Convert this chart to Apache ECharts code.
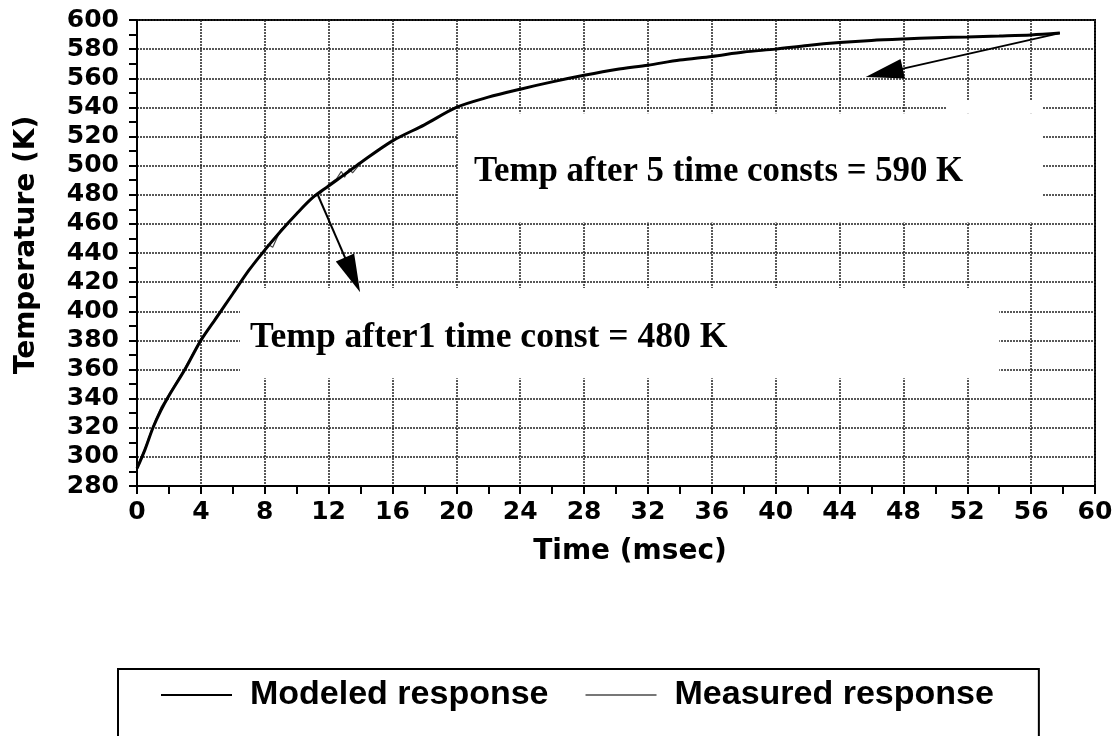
<!DOCTYPE html>
<html>
<head>
<meta charset="utf-8">
<script src="https://cdn.jsdelivr.net/npm/echarts@6/dist/echarts.min.js"></script>
<style>
html,body{margin:0;padding:0;background:#fff;}
#chart{width:1120px;height:736px;}
</style>
</head>
<body>
<div id="chart"></div>
<script>
// ---- data ----
const modeledTime = [0,0.5,1,1.5,2,3,4,5,6,7,8,9,10,11,12,13,14,16,18,20,22,24,26,28,30,32,34,36,38,40,42,44,46,48,50,52,54,56,57.8];
const modeledTemp = [292,305,320,332,342,360,380,396,412,428,442,455,467,478,486,494,502,517,528,540,547,552.5,557.5,562,566,569,572.5,575,578,580,582.5,584.5,586,587,587.8,588.4,589,589.7,591];
const measuredTime = [0,0.5,1,1.5,2,2.5,3,3.5,4,4.5,5,5.5,6,6.5,7,7.5,8,8.2,8.5,9,9.5,10,10.5,11,11.5,12,12.5,12.8,13,13.3,13.5,13.8,14];
const measuredTemp = [293,306,321,334,343,352,361,371,381,388,397,404,412,420,428,435,441,446,444,456,461,467,473,478,481,487,491,496,492,498,495,499,501];
const seriesNames = ['Modeled response','Measured response'];
const annotation1 = 'Temp after 5 time consts = 590 K';
const annotation2 = 'Temp after1 time const = 480 K';
// arrow endpoints [time, temp] (end = centre of arrow head)
const arrow1 = [[11.3,480.5],[13.5,425]];
const arrow2 = [[57.8,591],[46.8,563.7]];
// white annotation boxes [[t0,T0],[t1,T1]]
const box1 = [[20.1,461],[56.7,536]];
const box1b = [[50.7,536],[56.7,545]];
const box2 = [[6.45,354],[54.0,416]];

const chart = echarts.init(document.getElementById('chart'));
const zip = (a,b)=>a.map((v,i)=>[v,b[i]]);
const tickFont = {fontFamily:'DejaVu Sans',fontWeight:'bold',fontSize:25,color:'#000'};
const nameFont = {fontFamily:'DejaVu Sans',fontWeight:'bold',fontSize:28,color:'#000'};
const gridLine = {show:true,lineStyle:{color:'#222',width:1.5,type:[2,1]}};

chart.setOption({
  animation:false,
  backgroundColor:'#fff',
  color:['#000','#444'],
  grid:{left:137,right:25,top:20,bottom:250,show:true,borderColor:'#000',borderWidth:2,backgroundColor:'transparent'},
  xAxis:{
    type:'value',min:0,max:60,interval:4,
    name:'Time (msec)',nameLocation:'middle',nameGap:52,
    nameTextStyle:Object.assign({padding:[0,0,0,28]},nameFont),
    axisLine:{show:true,lineStyle:{color:'#000',width:2}},
    axisTick:{show:true,length:8,lineStyle:{color:'#000',width:2}},
    minorTick:{show:true,splitNumber:2,length:8,lineStyle:{color:'#000',width:2}},
    axisLabel:Object.assign({margin:14},tickFont),
    splitLine:gridLine
  },
  yAxis:{
    type:'value',min:280,max:600,interval:20,
    name:'Temperature (K)',nameLocation:'middle',nameGap:96,
    nameTextStyle:Object.assign({padding:[0,0,0,16]},nameFont),
    axisLine:{show:true,lineStyle:{color:'#000',width:2}},
    axisTick:{show:true,length:8,lineStyle:{color:'#000',width:2}},
    minorTick:{show:true,splitNumber:2,length:8,lineStyle:{color:'#000',width:2}},
    axisLabel:Object.assign({margin:18},tickFont),
    splitLine:gridLine
  },
  legend:{
    left:118,top:669,
    data:[
      {name:seriesNames[0],icon:'rect',itemStyle:{color:'#000'}},
      {name:seriesNames[1],icon:'rect',itemStyle:{color:'#777'}}
    ],
    orient:'horizontal',
    borderColor:'#000',borderWidth:2,
    padding:[9,45,60,43],
    itemWidth:71,itemHeight:2,itemGap:37,
    textStyle:{fontFamily:'Liberation Sans',fontWeight:'bold',fontSize:34,color:'#000',padding:[0,0,0,13]}
  },
  series:[
    {
      name:seriesNames[1],type:'line',data:zip(measuredTime,measuredTemp),
      symbol:'none',z:3,
      lineStyle:{color:'#444',width:1.2},
      markArea:{
        silent:true,
        itemStyle:{color:'#fff',opacity:1},
        label:{show:true,position:'insideLeft',distance:16,fontFamily:'Liberation Serif',fontWeight:'bold',fontSize:34.8,color:'#000',offset:[0,4]},
        data:[
          [{coord:box1[0],name:annotation1},{coord:box1[1]}],
          [{coord:box1b[0],label:{show:false}},{coord:box1b[1]}],
          [{coord:box2[0],name:annotation2,label:{distance:10,fontSize:35.6,offset:[0,5]}},{coord:box2[1]}]
        ]
      }
    },
    {
      name:seriesNames[0],type:'line',data:zip(modeledTime,modeledTemp),
      symbol:'none',smooth:0.3,z:4,
      lineStyle:{color:'#000',width:3},
      markLine:{
        silent:true,
        symbol:['none','triangle'],
        symbolSize:[20,38],
        lineStyle:{color:'#000',width:2,type:'solid'},
        label:{show:false},
        data:[
          [{coord:arrow1[0]},{coord:arrow1[1]}],
          [{coord:arrow2[0]},{coord:arrow2[1]}]
        ]
      }
    }
  ]
});
</script>
</body>
</html>
